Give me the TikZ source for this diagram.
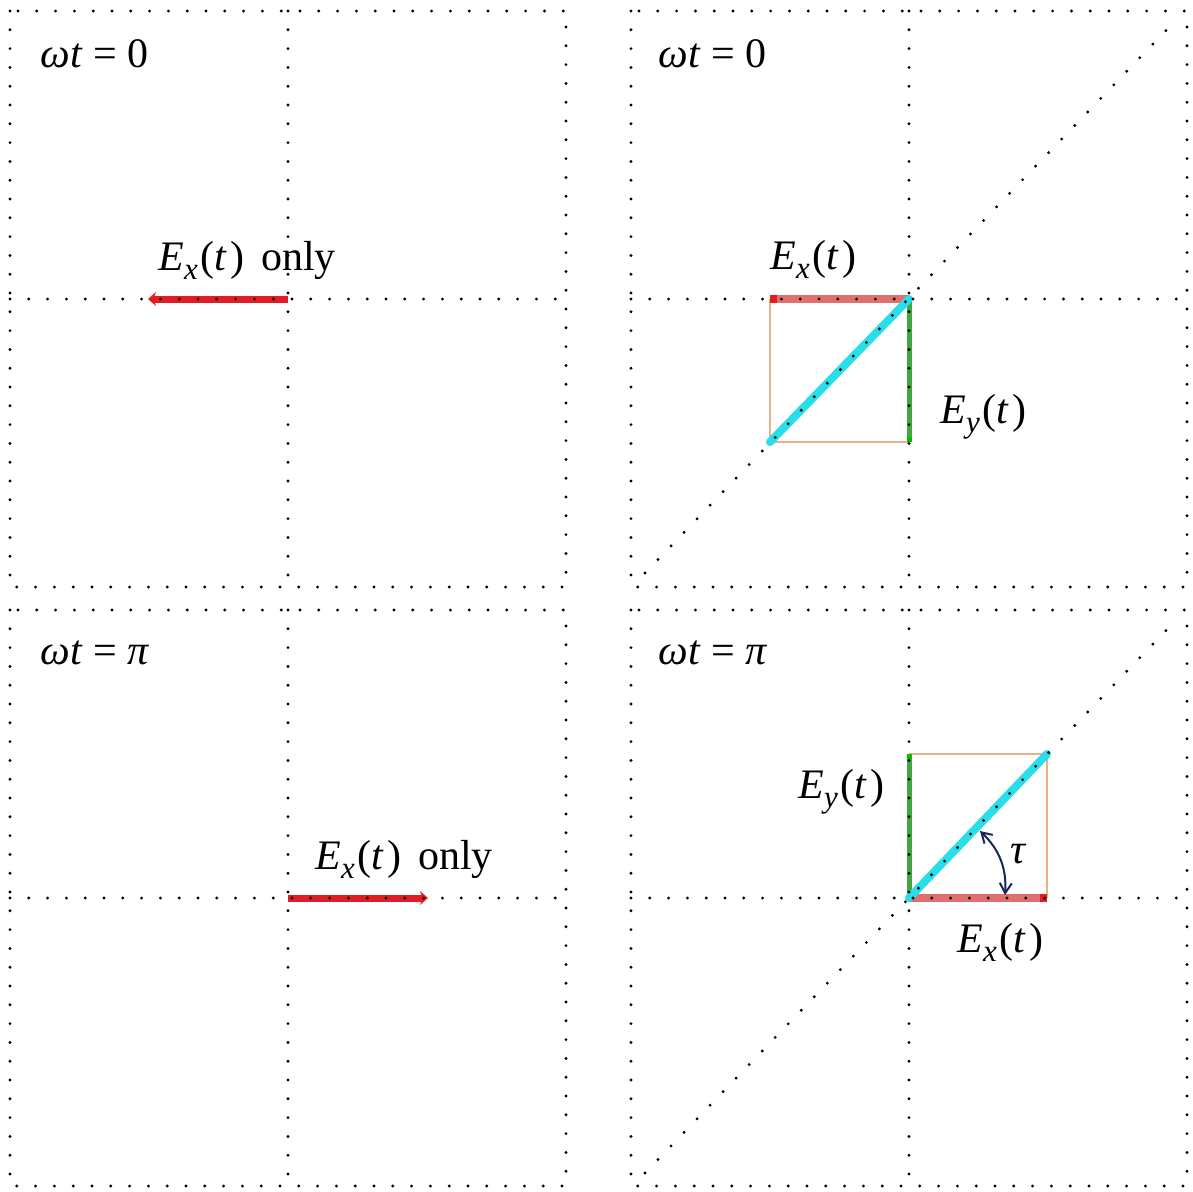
\documentclass[tikz,border=0pt]{standalone}
\usepackage{fontspec}
\setmainfont{Liberation Serif}
\usetikzlibrary{arrows.meta}
\definecolor{exred}{RGB}{226,28,34}
\definecolor{expale}{RGB}{224,112,112}
\definecolor{eygreen}{RGB}{64,168,64}
\definecolor{rescyan}{RGB}{40,222,232}
\definecolor{boxtan}{RGB}{236,176,136}
\definecolor{taunavy}{RGB}{24,40,84}
\newcommand{\lowidx}[1]{\raisebox{-0.22em}{\fontsize{15.5}{16}\selectfont\itshape #1}}
\newcommand{\field}[1]{\textit{E}\lowidx{#1}\kern1.5pt(\textit{t}\kern1.5pt)}

\begin{document}
\begin{tikzpicture}[
x=0.5pt,
y=-0.5pt,
>=Stealth,
grid/.style={line width=1.6pt,line cap=round,dash pattern=on 0pt off 9.4pt},
lbl/.style={anchor=base west,inner sep=0pt,font=\fontsize{21}{25}\selectfont},
exonly/.style={line width=3.5pt,exred,-{Stealth[length=4pt,width=7pt]}},
expart/.style={line width=4pt,expale,-{Rectangle[length=3.5pt,width=4pt,color=exred]}},
eypart/.style={line width=2.5pt,eygreen,-{Rectangle[length=2.5pt,width=2.5pt,color=green!75!black]}},
respart/.style={line width=4pt,rescyan,line cap=round},
boxline/.style={line width=1pt,boxtan},
tauarc/.style={line width=1pt,taunavy,{Straight Barb[length=5pt,width=6pt]}-{Straight Barb[length=5pt,width=6pt]}}
]
\useasboundingbox (0,0) rectangle (1193,1191);

\coordinate (oa) at (288,299);
\coordinate (ob) at (909,299);
\coordinate (oc) at (288,898);
\coordinate (od) at (909,898);
\coordinate (ea) at (148,299);
\coordinate (ec) at (428,898);
\coordinate (sb1) at (770,299);
\coordinate (sb2) at (770,442);
\coordinate (sb3) at (909,442);
\coordinate (sd1) at (909,754);
\coordinate (sd2) at (1047,754);
\coordinate (sd3) at (1047,898);
\coordinate (ta) at (980,831);
\coordinate (tb) at (1005,895);
\coordinate (db1) at (645,573);
\coordinate (db2) at (1176,20);
\coordinate (dd1) at (645,1173);
\coordinate (dd2) at (1176,620);

\node[lbl] (wa) at (40,67) {\textit{ωt} = 0};
\node[lbl] (wb) at (658,67) {\textit{ωt} = 0};
\node[lbl] (wc) at (40,664) {\textit{ωt} = \textit{π}};
\node[lbl] (wd) at (658,664) {\textit{ωt} = \textit{π}};

\node[lbl] (xa) at (158,270) {\field{x}\hspace{0.4em}only};
\node[lbl] (xc) at (315,869) {\field{x}\hspace{0.4em}only};
\node[lbl] (xb) at (770,269) {\field{x}};
\node[lbl] (yb) at (940,423) {\field{y}};
\node[lbl] (yd) at (798,798) {\field{y}};
\node[lbl] (xd) at (957,952) {\field{x}};
\node[lbl] (tau) at (1010,863) {\textit{τ}};

\draw[exonly] (oa) -- (ea);
\draw[exonly] (oc) -- (ec);

\draw[boxline] (sb1) -- (sb2) -- (sb3);
\draw[expart] (ob) -- (sb1);
\draw[eypart] (ob) -- (sb3);
\draw[respart] (ob) -- (sb2);

\draw[boxline] (sd1) -- (sd2) -- (sd3);
\draw[expart] (od) -- (sd3);
\draw[eypart] (od) -- (sd1);
\draw[respart] (od) -- (sd2);
\draw[tauarc] (ta) to[bend left=25] (tb);

\foreach \px/\py in {10/11,631/11,10/610,631/610}{
\draw[grid] (\px,\py) rectangle ++(556,576);
\draw[grid] (\px+278,\py) -- ++(0,576);
\draw[grid] (\px,\py+288) -- ++(556,0);
}
\draw[grid] (db1) -- (db2);
\draw[grid] (dd1) -- (dd2);

\end{tikzpicture}
\end{document}
